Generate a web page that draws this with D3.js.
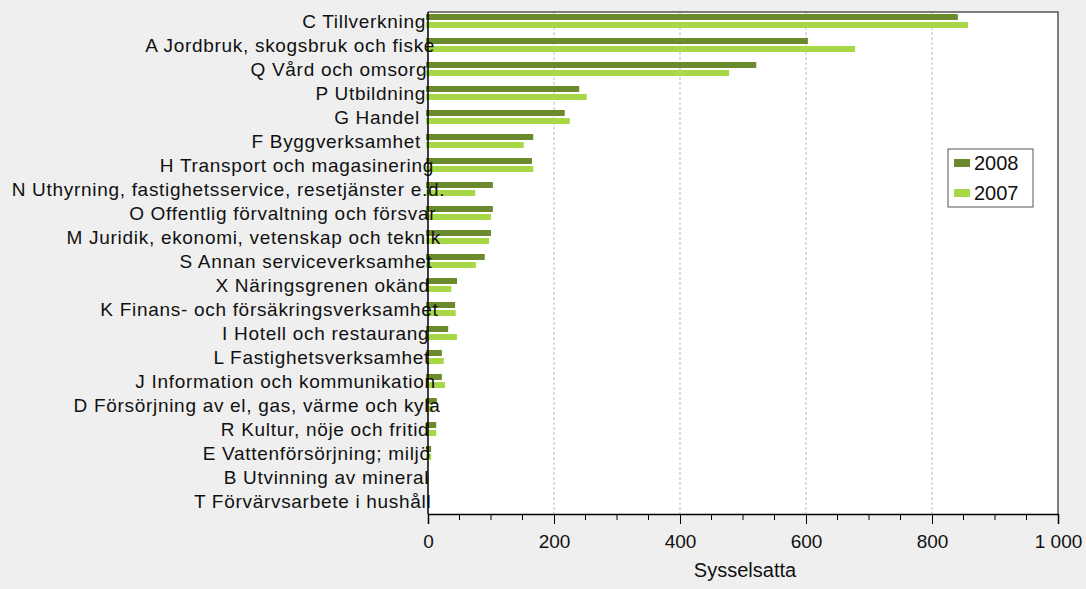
<!DOCTYPE html>
<meta charset="utf-8">
<script src="https://d3js.org/d3.v7.min.js"></script>
<style>
  body { margin: 0; background: #efefef; }
  text { font-family: "Liberation Sans", Arial, sans-serif; fill: #111; }
</style>
<div id="chart"></div>
<script>
// data
const categories = [
  "C Tillverkning",
  "A Jordbruk, skogsbruk och fiske",
  "Q Vård och omsorg",
  "P Utbildning",
  "G Handel\u00a0",
  "F Byggverksamhet\u00a0",
  "H Transport och magasinering",
  "N Uthyrning, fastighetsservice, resetjänster e.d.",
  "O Offentlig förvaltning och försvar",
  "M Juridik, ekonomi, vetenskap och teknik",
  "S Annan serviceverksamhet",
  "X Näringsgrenen okänd",
  "K Finans- och försäkringsverksamhet",
  "I Hotell och restaurang",
  "L Fastighetsverksamhet",
  "J Information och kommunikation",
  "D Försörjning av el, gas, värme och kyla",
  "R Kultur, nöje och fritid",
  "E Vattenförsörjning; miljö",
  "B Utvinning av mineral",
  "T Förvärvsarbete i hushåll"
];
const v2008 = [841, 603, 521, 240, 217, 167, 165, 103, 103, 100, 90, 46, 43, 32, 22, 22, 14, 13, 5, 0, 0];
const v2007 = [857, 678, 478, 252, 225, 152, 167, 75, 100, 97, 76, 37, 44, 46, 25, 27, 8, 13, 5, 1, 0];
const seriesNames = ["2008", "2007"];
const seriesColors = ["#6b8a2e", "#a8d846"];
const xTicks = [0, 200, 400, 600, 800, 1000];
const xTitle = "Sysselsatta";

const W = 1086, H = 589;
const plot = { left: 428, right: 1058, top: 12, bottom: 514 };

const svg = d3.select("#chart").append("svg")
  .attr("width", W).attr("height", H);

svg.append("rect").attr("width", W).attr("height", H).attr("fill", "#efefef");

// plot area
svg.append("rect")
  .attr("x", plot.left).attr("y", plot.top)
  .attr("width", plot.right - plot.left).attr("height", plot.bottom - plot.top)
  .attr("fill", "#fff");

const x = d3.scaleLinear().domain([0, 1000]).range([plot.left, plot.right]);
const y = d3.scaleBand().domain(categories).range([plot.top - 3, plot.bottom - 1]);
const sub = d3.scaleBand().domain(seriesNames).range([5, 19]).paddingInner(0.25);

// gridlines
svg.append("g").selectAll("line")
  .data(xTicks.filter(t => t > 0 && t < 1000))
  .join("line")
  .attr("x1", d => x(d)).attr("x2", d => x(d))
  .attr("y1", plot.top).attr("y2", plot.bottom)
  .attr("stroke", "#bbb").attr("stroke-dasharray", "3,2");

// frame top / right
svg.append("path")
  .attr("d", `M${plot.left},${plot.top}H${plot.right}V${plot.bottom}`)
  .attr("fill", "none").attr("stroke", "#555").attr("stroke-width", 1.5);

// bars
const rows = categories.map((c, i) => ({ cat: c, vals: [v2008[i], v2007[i]] }));
const g = svg.append("g").selectAll("g").data(rows).join("g")
  .attr("transform", d => `translate(0,${y(d.cat)})`);
g.selectAll("rect")
  .data(d => d.vals.map((v, j) => ({ v, s: seriesNames[j], c: seriesColors[j] })).filter(e => e.v > 0))
  .join("rect")
  .attr("x", x(0) - 2)
  .attr("y", e => sub(e.s))
  .attr("width", e => x(e.v) - x(0) + 2)
  .attr("height", sub.bandwidth())
  .attr("fill", e => e.c);

// category labels (long ones spill a bit past the axis, as in the original)
svg.append("g").selectAll("text")
  .data(categories)
  .join("text")
  .attr("y", d => y(d) + 12)
  .attr("dy", "0.36em")
  .attr("text-anchor", "end")
  .style("font-size", "19px")
  .style("letter-spacing", "0.7px")
  .text(d => d)
  .attr("x", function () {
    const w = this.getComputedTextLength();
    return plot.left - 2 + Math.max(0, 0.07 * (w - 160));
  });

// left axis line
svg.append("line")
  .attr("x1", plot.left).attr("x2", plot.left)
  .attr("y1", plot.top).attr("y2", plot.bottom)
  .attr("stroke", "#000").attr("stroke-width", 1.5);

// bottom axis
const fmt = v => v >= 1000 ? d3.format(",")(v).replace(",", " ") : String(v);
const xAxis = svg.append("g")
  .attr("transform", `translate(0,${plot.bottom})`)
  .call(d3.axisBottom(x).tickValues(xTicks).tickSize(10).tickFormat(fmt).tickPadding(11));
xAxis.select(".domain").attr("stroke", "#000").attr("stroke-width", 1.5);
xAxis.selectAll(".tick line").attr("stroke", "#000");
xAxis.selectAll("text").style("font-size", "19px").attr("fill", "#111");
// minor ticks
xAxis.append("g").selectAll("line")
  .data(d3.range(50, 1000, 50).filter(v => v % 200 !== 0))
  .join("line")
  .attr("x1", d => x(d)).attr("x2", d => x(d))
  .attr("y1", 0).attr("y2", 6)
  .attr("stroke", "#000");

svg.append("text")
  .attr("x", (plot.left + plot.right) / 2 + 2)
  .attr("y", 577)
  .attr("text-anchor", "middle")
  .style("font-size", "20px")
  .text(xTitle);

// legend
const lg = svg.append("g").attr("transform", "translate(948,149)");
lg.append("rect").attr("width", 85).attr("height", 58)
  .attr("fill", "#fff").attr("stroke", "#555");
lg.selectAll(".sw").data(seriesNames).join("rect")
  .attr("x", 6).attr("y", (d, i) => 10 + i * 30)
  .attr("width", 16).attr("height", 8)
  .attr("fill", (d, i) => seriesColors[i]);
lg.selectAll(".lb").data(seriesNames).join("text")
  .attr("x", 26).attr("y", (d, i) => 14 + i * 30)
  .attr("dy", "0.36em")
  .style("font-size", "20px")
  .text(d => d);
</script>
